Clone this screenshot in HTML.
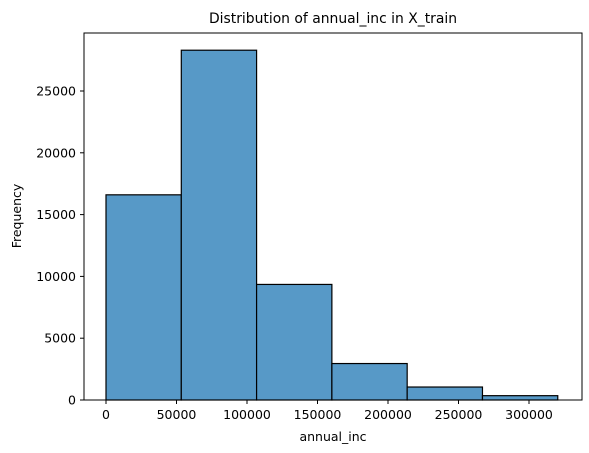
<!DOCTYPE html>
<html><head><meta charset="utf-8"><style>
body{margin:0;background:#fff;}
svg{display:block;font-family:"DejaVu Sans","Liberation Sans",sans-serif;}
</style></head><body>
<svg id="chart" width="589" height="453">
<text x="333" y="23" font-size="13.9" text-anchor="middle">Distribution of annual_inc in X_train</text>
<g id="bars"></g><g id="xt"></g><g id="yt"></g>
<rect x="84" y="33" width="498" height="367" fill="none" stroke="#000" stroke-width="1"/>
<text x="333" y="441" font-size="12.5" text-anchor="middle">annual_inc</text>
<text transform="translate(21,216) rotate(-90)" font-size="12.5" text-anchor="middle">Frequency</text>
</svg>
<script>
const binEdges=[0,53400,106800,160200,213600,267000,320400];
const counts=[16600,28300,9350,2950,1050,350];
const xTicks=[0,50000,100000,150000,200000,250000,300000];
const yTicks=[0,5000,10000,15000,20000,25000];
const X=v=>106+v*(423/300000);
const Y=v=>400-v*(309/25000);
const NS="http://www.w3.org/2000/svg";
const bars=document.getElementById('bars'),xt=document.getElementById('xt'),yt=document.getElementById('yt');
counts.forEach((c,i)=>{const r=document.createElementNS(NS,'rect');
r.setAttribute('x',X(binEdges[i]));r.setAttribute('y',Y(c));
r.setAttribute('width',X(binEdges[i+1])-X(binEdges[i]));r.setAttribute('height',Y(0)-Y(c));
r.setAttribute('fill','#5799c7');r.setAttribute('stroke','#000');r.setAttribute('stroke-width','1.2');


bars.appendChild(r);});
xTicks.forEach(t=>{const l=document.createElementNS(NS,'line');
l.setAttribute('x1',X(t));l.setAttribute('x2',X(t));l.setAttribute('y1',400);l.setAttribute('y2',404);l.setAttribute('stroke','#000');


xt.appendChild(l);
const s=document.createElementNS(NS,'text');s.setAttribute('x',X(t));s.setAttribute('y',419);s.setAttribute('font-size','12.5');s.setAttribute('text-anchor','middle');s.textContent=t;


xt.appendChild(s);});
yTicks.forEach(t=>{const l=document.createElementNS(NS,'line');
l.setAttribute('x1',80);l.setAttribute('x2',84);l.setAttribute('y1',Y(t));l.setAttribute('y2',Y(t));l.setAttribute('stroke','#000');


yt.appendChild(l);
const s=document.createElementNS(NS,'text');s.setAttribute('x',76);s.setAttribute('y',Y(t)+4.5);s.setAttribute('font-size','12.5');s.setAttribute('text-anchor','end');s.textContent=t;


yt.appendChild(s);});
</script>
</body></html>
